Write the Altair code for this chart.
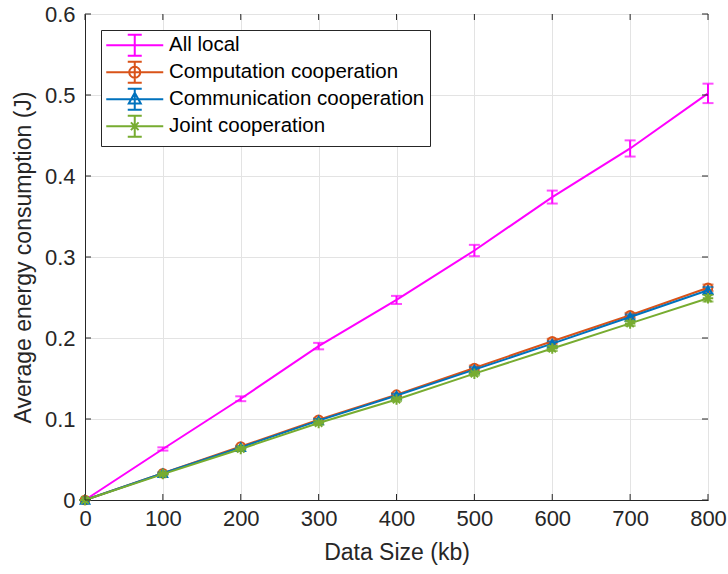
import altair as alt
import pandas as pd

# Data size (kb) on the x axis
sizes = [0, 100, 200, 300, 400, 500, 600, 700, 800]

series_names = [
    "All local",
    "Computation cooperation",
    "Communication cooperation",
    "Joint cooperation",
]
series_colors = ["#FF00FF", "#D95319", "#0072BD", "#77AC30"]

# Mean energy (J) and half-width of the error bars for each scheme
all_local = [0.0, 0.063, 0.125, 0.190, 0.247, 0.308, 0.374, 0.434, 0.502]
all_local_err = [0.0, 0.002, 0.003, 0.004, 0.005, 0.007, 0.008, 0.010, 0.012]
comp_coop = [0.0, 0.033, 0.066, 0.099, 0.130, 0.163, 0.196, 0.228, 0.262]
comp_coop_err = [0.0, 0.001, 0.001, 0.002, 0.002, 0.003, 0.003, 0.003, 0.004]
comm_coop = [0.0, 0.033, 0.065, 0.098, 0.129, 0.161, 0.193, 0.226, 0.259]
comm_coop_err = [0.0, 0.001, 0.001, 0.002, 0.002, 0.003, 0.003, 0.003, 0.004]
joint_coop = [0.0, 0.032, 0.063, 0.095, 0.124, 0.156, 0.187, 0.218, 0.249]
joint_coop_err = [0.0, 0.001, 0.001, 0.002, 0.002, 0.002, 0.003, 0.003, 0.004]

x_ticks = [0, 100, 200, 300, 400, 500, 600, 700, 800]
y_ticks = [0.0, 0.1, 0.2, 0.3, 0.4, 0.5, 0.6]

means = [all_local, comp_coop, comm_coop, joint_coop]
errs = [all_local_err, comp_coop_err, comm_coop_err, joint_coop_err]

rows = []
for name, m, e in zip(series_names, means, errs):
    for s, v, d in zip(sizes, m, e):
        rows.append({"size": s, "energy": v, "lo": v - d, "hi": v + d, "series": name})
df = pd.DataFrame(rows)

W, H = 623, 486
FONT = "Liberation Sans"
AX = "#262626"

xscale = alt.Scale(domain=[0, 800], nice=False, zero=False)
yscale = alt.Scale(domain=[0, 0.6], nice=False, zero=False)

x_axis = alt.Axis(values=x_ticks, title="Data Size (kb)", grid=True, tickSize=0,
                  labelFlush=False, labelPadding=8, titlePadding=12, format="d")
y_axis = alt.Axis(values=y_ticks, title="Average energy consumption (J)", grid=True,
                  tickSize=0, labelFlush=False, labelPadding=10, titlePadding=9,
                  format=".1~f")


def xenc(field):
    return alt.X(field, scale=xscale, axis=x_axis)


def yenc(field):
    return alt.Y(field, scale=yscale, axis=y_axis)


# Marker glyphs drawn on the data points
asterisk = "M-1,0H1M0,-1V1M-0.7,-0.7L0.7,0.7M-0.7,0.7L0.7,-0.7"
marker_shapes = [None, "circle", "triangle-up", asterisk]
marker_sizes = [0, 75, 75, 110]

# Legend glyphs: line + error bar + marker (symbol unit = 8 px)
line_seg = "M-3.5625,0H3.5625"
bar = "M0,-1.3125V1.3125M-0.875,-1.3125H0.875M-0.875,1.3125H0.875"
legend_paths = [
    line_seg + bar,
    line_seg + bar + "M0.69,0A0.69,0.69 0 1,1 -0.69,0A0.69,0.69 0 1,1 0.69,0",
    line_seg + bar + "M0,-0.81L0.75,0.54L-0.75,0.54Z",
    line_seg + bar + "M-0.68,0H0.68M0,-0.68V0.68M-0.48,-0.48L0.48,0.48M-0.48,0.48L0.48,-0.48",
]

layers = []
for i, (name, col) in enumerate(zip(series_names, series_colors)):
    base = alt.Chart(df).transform_filter(alt.datum.series == name)
    line = base.mark_line(color=col, strokeWidth=2).encode(
        x=xenc("size:Q"), y=yenc("energy:Q"),
    )
    rule = base.mark_rule(color=col, strokeWidth=2).encode(
        x=xenc("size:Q"), y=yenc("lo:Q"), y2="hi:Q",
    )
    cap_lo = base.mark_tick(color=col, orient="horizontal", size=11, thickness=2).encode(
        x=xenc("size:Q"), y=yenc("lo:Q"),
    )
    cap_hi = base.mark_tick(color=col, orient="horizontal", size=11, thickness=2).encode(
        x=xenc("size:Q"), y=yenc("hi:Q"),
    )
    layers += [line, rule, cap_lo, cap_hi]
    if marker_shapes[i] is not None:
        pts = base.mark_point(shape=marker_shapes[i], size=marker_sizes[i], color=col,
                              filled=False, strokeWidth=2, opacity=1).encode(
            x=xenc("size:Q"), y=yenc("energy:Q"),
        )
        layers.append(pts)

# Inward tick marks on all four sides of the box
xt = alt.Chart(pd.DataFrame({"v": x_ticks}))
yt = alt.Chart(pd.DataFrame({"v": y_ticks}))
tick_style = dict(color=AX, strokeWidth=1)
layers += [
    xt.mark_rule(**tick_style).encode(x=xenc("v:Q"), y=alt.value(H), y2=alt.value(H - 6)),
    xt.mark_rule(**tick_style).encode(x=xenc("v:Q"), y=alt.value(0), y2=alt.value(6)),
    yt.mark_rule(**tick_style).encode(y=yenc("v:Q"), x=alt.value(0), x2=alt.value(6)),
    yt.mark_rule(**tick_style).encode(y=yenc("v:Q"), x=alt.value(W), x2=alt.value(W - 6)),
]

legend_def = alt.Legend(
    title=None, orient="none", legendX=16, legendY=16,
    symbolSize=256, symbolStrokeWidth=2, symbolFillColor="transparent",
    symbolOffset=18.5, labelOffset=24,
    labelFont=FONT, labelFontSize=20.5, labelColor="#000000", labelLimit=500,
    strokeColor=AX, fillColor="white", padding=5, rowPadding=-3,
)
legend_layer = alt.Chart(df).transform_filter("false").mark_point(
    filled=False, strokeWidth=2, opacity=1
).encode(
    color=alt.Color("series:N", scale=alt.Scale(domain=series_names, range=series_colors),
                    legend=legend_def),
    shape=alt.Shape("series:N", scale=alt.Scale(domain=series_names, range=legend_paths),
                    legend=legend_def),
)
layers.append(legend_layer)

chart = alt.layer(*layers).properties(
    width=W, height=H,
    autosize=alt.AutoSizeParams(type="none"),
    padding={"left": 85, "top": 14, "right": 20, "bottom": 74},
).configure_view(
    stroke="#404040", strokeWidth=1
).configure_axis(
    domainColor=AX, domainWidth=1, gridColor="#e3e3e3", gridWidth=1,
    labelFont=FONT, labelFontSize=22, labelColor=AX,
    titleFont=FONT, titleFontSize=23, titleColor=AX, titleFontWeight="normal",
).configure_legend(
    strokeWidth=1
)

chart.save("out.html", embed_options={"renderer": "svg", "actions": False})
